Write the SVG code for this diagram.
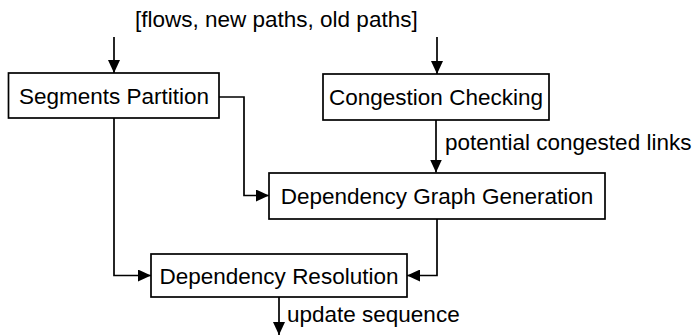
<svg xmlns="http://www.w3.org/2000/svg" width="693" height="335" viewBox="0 0 693 335">
  <style>
    .box { fill: #ffffff; stroke: #000000; stroke-width: 1.7; }
    .lbl { font-family: "Liberation Sans", Arial, sans-serif; font-size: 22.5px; fill: #000000; }
    .mid { text-anchor: middle; }
    .wire { fill: none; stroke: #000000; stroke-width: 1.7; marker-end: url(#head); }
  </style>
  <defs>
    <marker id="head" markerUnits="userSpaceOnUse" markerWidth="14" markerHeight="12" refX="13" refY="6" orient="auto">
      <path d="M0,0 L13,6 L0,12 Z" fill="#000000"/>
    </marker>
  </defs>
  <rect width="693" height="335" fill="#ffffff"/>

  <text class="lbl" x="135" y="27">[flows, new paths, old paths]</text>

  <g id="connectors">
    <path class="wire" d="M114,37 V73"/>
    <path class="wire" d="M437,37 V74"/>
    <path class="wire" d="M436,120 V172.5"/>
    <path class="wire" d="M219,97 H244 V195.5 H269"/>
    <path class="wire" d="M114,118 V275.5 H151"/>
    <path class="wire" d="M437,219 V275.5 H407"/>
    <path class="wire" d="M279,297 V335"/>
    <text class="lbl" x="445" y="150">potential congested links</text>
    <text class="lbl" x="287" y="321.5">update sequence</text>
  </g>

  <g id="segments-partition">
    <rect class="box" x="8.5" y="73" width="210.5" height="45"/>
    <text class="lbl mid" x="114" y="103.5">Segments Partition</text>
  </g>

  <g id="congestion-checking">
    <rect class="box" x="323" y="74" width="226" height="46"/>
    <text class="lbl mid" x="436" y="105">Congestion Checking</text>
  </g>

  <g id="dependency-graph-generation">
    <rect class="box" x="269" y="173" width="336" height="46"/>
    <text class="lbl mid" x="437" y="204">Dependency Graph Generation</text>
  </g>

  <g id="dependency-resolution">
    <rect class="box" x="151" y="254" width="256" height="43"/>
    <text class="lbl mid" x="279" y="283.5">Dependency Resolution</text>
  </g>
</svg>
